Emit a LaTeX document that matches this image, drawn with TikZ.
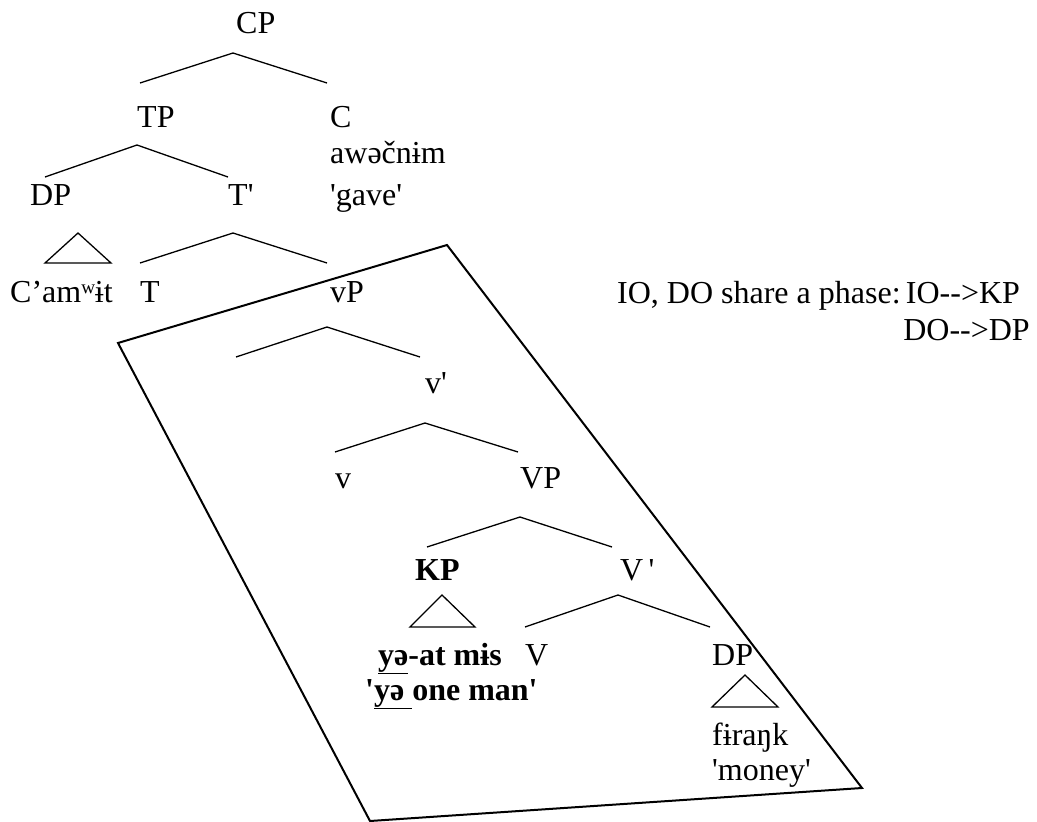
\documentclass[tikz,border=0pt]{standalone}
\usepackage{fontspec}
\setmainfont{Liberation Serif}
\newfontfamily\tnr{Liberation Serif}
\begin{document}
\begin{tikzpicture}[x=1pt,y=-1pt,
  lbl/.style={inner sep=0pt,anchor=base west,font=\tnr\fontsize{32}{38}\selectfont},
  bl/.style={lbl,font=\tnr\fontsize{32}{38}\selectfont\bfseries},
  br/.style={line width=1.3pt},
  box/.style={line width=2pt,line join=miter}]
\useasboundingbox (0,0) rectangle (1037,822);
% labels
\node[lbl] (CP) at (236,33) {CP};
\node[lbl] (TP) at (137,127) {TP};
\node[lbl] (C) at (330,127) {C};
\node[lbl] (Cf) at (330,163) {awəčnɨm};
\node[lbl] (Cg) at (330,205) {'gave'};
\node[lbl] (DP1) at (30,205) {DP};
\node[lbl] (Tb) at (228,205) {T'};
\node[lbl] (Cam) at (10,302) {C’amʷɨt};
\node[lbl] (T) at (140,302) {T};
\node[lbl] (vP) at (330,302) {vP};
\node[lbl] (vb) at (425,393) {v'};
\node[lbl] (v) at (335,488) {v};
\node[lbl] (VP) at (520,488) {VP};
\node[bl] (KP) at (415,580) {KP};
\node[lbl] (Vb) at (620,580) {V\,'};
\node[bl] (IO) at (378,665) {\underline{yə}-at mɨs};
\node[bl] (IOg) at (365,700) {'\underline{yə }one man'};
\node[lbl] (V) at (525,665) {V};
\node[lbl] (DP2) at (712,665) {DP};
\node[lbl] (DO) at (712,745) {fɨraŋk};
\node[lbl] (DOg) at (712,780) {'money'};
\node[lbl] (note1) at (617,303) {IO, DO share a phase:\,IO-->KP};
\node[lbl,anchor=base east] (note2) at (1030,340) {DO-->DP};
% branches
\coordinate (a1) at (233,53);
\draw[br] (140,83) -- (a1) -- (327,83);
\coordinate (a2) at (137,145);
\draw[br] (45,177) -- (a2) -- (228,177);
\coordinate (a3) at (233,233);
\draw[br] (140,263) -- (a3) -- (327,263);
\coordinate (a4) at (327,327);
\draw[br] (236,357) -- (a4) -- (420,357);
\coordinate (a5) at (425,423);
\draw[br] (335,452) -- (a5) -- (518,452);
\coordinate (a6) at (520,517);
\draw[br] (427,547) -- (a6) -- (612,547);
\coordinate (a7) at (618,595);
\draw[br] (525,627) -- (a7) -- (710,627);
% triangles
\draw[br] (745,675) -- (778,707) -- (712,707) -- cycle;
\draw[br] (78,233) -- (111,263) -- (45,263) -- cycle;
\draw[br] (442,595) -- (475,627) -- (410,627) -- cycle;
% phase box
\draw[box] (118,343) -- (447,245) -- (862,788) -- (370,821) -- cycle;
\end{tikzpicture}
\end{document}
